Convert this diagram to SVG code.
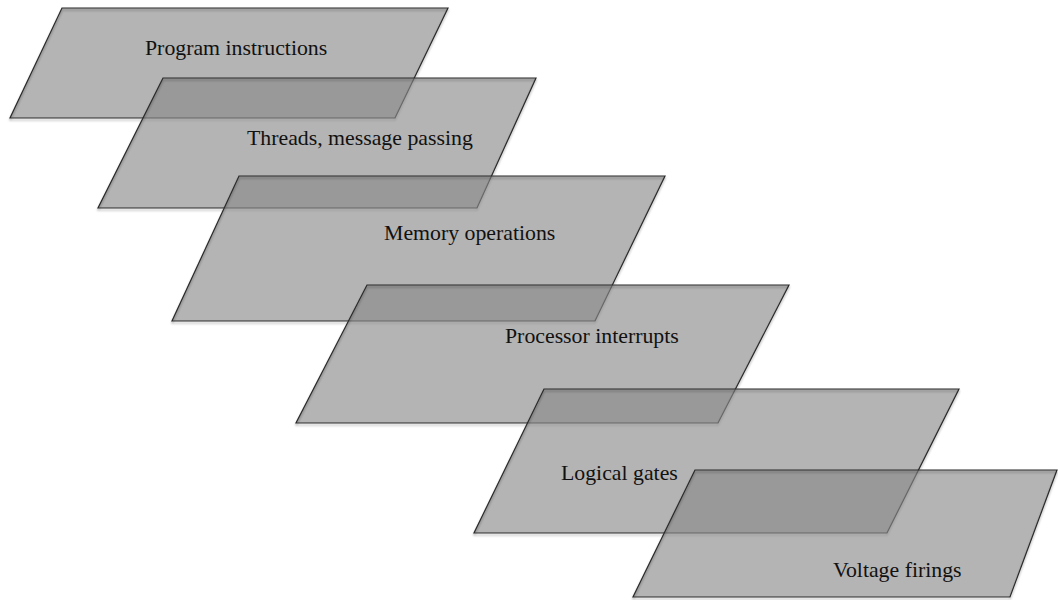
<svg xmlns="http://www.w3.org/2000/svg" width="1058" height="600" viewBox="0 0 1058 600">
  <style>
    .plane { fill: #8a8a8a; fill-opacity: 0.64; stroke: none; }
    .edge { fill: none; stroke: #2a2a2a; stroke-width: 1.2; stroke-linejoin: miter; }
    .label { font-family: "Liberation Serif", "DejaVu Serif", serif; font-size: 21.8px; fill: #111; }
  </style>
  <defs>
    <filter id="shadow" x="-5%" y="-5%" width="110%" height="120%">
      <feDropShadow dx="0" dy="2" stdDeviation="1.2" flood-color="#000" flood-opacity="0.35"/>
    </filter>
  </defs>
  <rect width="1058" height="600" fill="#ffffff"/>

  <g id="program-instructions">
    <polygon class="plane" points="62,8 448,8 395,118 10,118"/>
    <polygon class="edge" filter="url(#shadow)" points="62,8 448,8 395,118 10,118"/>
    <text class="label" x="145" y="55">Program instructions</text>
  </g>

  <g id="threads-message-passing">
    <polygon class="plane" points="163,78 536,78 477,208 98,208"/>
    <polygon class="edge" filter="url(#shadow)" points="163,78 536,78 477,208 98,208"/>
    <text class="label" x="247" y="145">Threads, message passing</text>
  </g>

  <g id="memory-operations">
    <polygon class="plane" points="239,176 665,176 595,321 172,321"/>
    <polygon class="edge" filter="url(#shadow)" points="239,176 665,176 595,321 172,321"/>
    <text class="label" x="384" y="240">Memory operations</text>
  </g>

  <g id="processor-interrupts">
    <polygon class="plane" points="367,285 789,285 718,423 296,423"/>
    <polygon class="edge" filter="url(#shadow)" points="367,285 789,285 718,423 296,423"/>
    <text class="label" x="505" y="343">Processor interrupts</text>
  </g>

  <g id="logical-gates">
    <polygon class="plane" points="544,389 959,389 887,533 474,533"/>
    <polygon class="edge" filter="url(#shadow)" points="544,389 959,389 887,533 474,533"/>
    <text class="label" x="561" y="480">Logical gates</text>
  </g>

  <g id="voltage-firings">
    <polygon class="plane" points="695,470 1057,470 1010,597 633,597"/>
    <polygon class="edge" filter="url(#shadow)" points="695,470 1057,470 1010,597 633,597"/>
    <text class="label" x="833" y="577">Voltage firings</text>
  </g>
</svg>
